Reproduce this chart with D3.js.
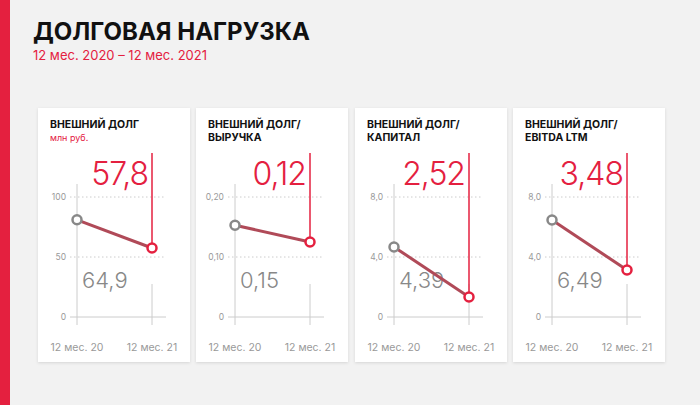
<!DOCTYPE html><html><head><meta charset="utf-8"><script src="https://cdn.jsdelivr.net/npm/d3@7"></script>
<style>body{margin:0;background:#f2f2f2;font-family:Inter,"Noto Sans",sans-serif}</style></head><body><svg id="c" width="700" height="405"></svg>
<script>
const titles=[["ВНЕШНИЙ ДОЛГ"],["ВНЕШНИЙ ДОЛГ/","ВЫРУЧКА"],["ВНЕШНИЙ ДОЛГ/","КАПИТАЛ"],["ВНЕШНИЙ ДОЛГ/","EBITDA LTM"]];
const units=["млн руб.","","",""];
const categories=["12 мес. 20","12 мес. 21"];
const startValues=[81,0.153,4.67,6.47];
const endValues=[57.5,0.125,1.33,3.13];
const startLabels=["64,9","0,15","4,39","6,49"];
const endLabels=["57,8","0,12","2,52","3,48"];
const yMax=[100,0.2,8,8];
const tickLabels=[["0","50","100"],["0","0,10","0,20"],["0","4,0","8,0"],["0","4,0","8,0"]];
const red="#e4203f";
const svg=d3.select("#c");
svg.append("rect").attr("width",700).attr("height",405).attr("fill","#f2f2f2");
svg.append("rect").attr("width",10).attr("height",405).attr("fill",red);
svg.append("text").attr("x",33).attr("y",40).attr("font-size",24).attr("font-weight",700).attr("fill","#111").text("ДОЛГОВАЯ НАГРУЗКА");
svg.append("text").attr("x",33).attr("y",60).attr("font-size",13).attr("fill",red).text("12 мес. 2020 – 12 мес. 2021");
const defs=svg.append("defs");
defs.append("filter").attr("id","sh").append("feDropShadow").attr("dx",0).attr("dy",1).attr("stdDeviation",1.5).attr("flood-opacity",0.12);
const cardX=[38,196,355,513];
titles.forEach((t,i)=>{
 const g=svg.append("g").attr("transform",`translate(${cardX[i]},108)`);
 g.append("rect").attr("width",152).attr("height",254).attr("fill","#fff").attr("filter","url(#sh)");
 t.forEach((l,j)=>g.append("text").attr("x",12).attr("y",20+j*12.5).attr("font-size",10.5).attr("font-weight",700).attr("fill","#111").text(l));
 if(units[i])g.append("text").attr("x",12).attr("y",33).attr("font-size",9).attr("fill",red).text(units[i]);
 const x=d3.scalePoint().domain(categories).range([39,114]);
 const y=d3.scaleLinear().domain([0,yMax[i]]).range([209,89]);
 const tv=[0,yMax[i]/2,yMax[i]];
 tv.forEach((v,k)=>{
  g.append("line").attr("x1",32).attr("x2",128).attr("y1",y(v)).attr("y2",y(v)).attr("stroke","#ccc").attr("stroke-width",1).attr("stroke-dasharray",k?"1.5,2.5":null);
  g.append("text").attr("x",28).attr("y",y(v)+3).attr("text-anchor","end").attr("font-size",8.5).attr("fill","#999").text(tickLabels[i][k]);
 });
 g.append("line").attr("x1",x(categories[0])).attr("x2",x(categories[0])).attr("y1",76).attr("y2",217).attr("stroke","#ccc");
 g.append("line").attr("x1",x(categories[1])).attr("x2",x(categories[1])).attr("y1",176).attr("y2",217).attr("stroke","#ccc");
 categories.forEach(c=>g.append("text").attr("x",x(c)).attr("y",243).attr("text-anchor","middle").attr("font-size",10.5).attr("fill","#999").text(c));
 g.append("line").attr("x1",x(categories[1])).attr("x2",x(categories[1])).attr("y1",45).attr("y2",y(endValues[i])).attr("stroke",red).attr("stroke-width",1.5);
 g.append("text").attr("x",x(categories[1])-4).attr("y",77).attr("text-anchor","end").attr("font-size",32).attr("font-weight",300).attr("fill",red).attr("letter-spacing",-1).text(endLabels[i]);
 g.append("text").attr("x",44).attr("y",180).attr("font-size",22).attr("font-weight",300).attr("fill","#888").text(startLabels[i]);
 const pts=[[categories[0],startValues[i]],[categories[1],endValues[i]]];
 g.append("path").attr("d",d3.line().x(d=>x(d[0])).y(d=>y(d[1]))(pts)).attr("stroke","#b04a58").attr("stroke-width",3).attr("fill","none");
 pts.forEach((p,k)=>g.append("circle").attr("cx",x(p[0])).attr("cy",y(p[1])).attr("r",4.5).attr("fill","#fff").attr("stroke",k?red:"#888").attr("stroke-width",2.5));
});
</script></body></html>
